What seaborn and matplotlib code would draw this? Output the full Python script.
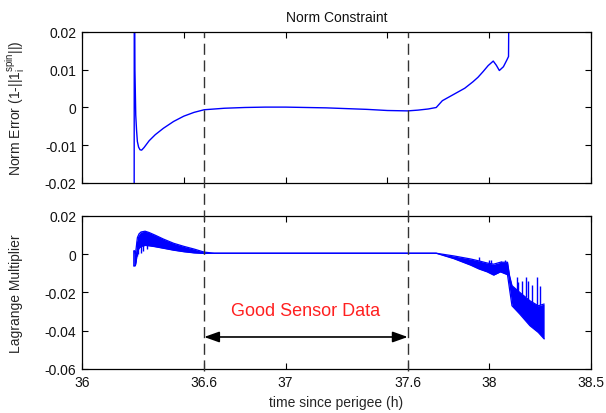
import numpy as np
import pandas as pd
import seaborn as sns
import matplotlib
matplotlib.use("Agg")
import matplotlib.pyplot as plt
from matplotlib.lines import Line2D
from matplotlib.transforms import blended_transform_factory

# ---------------- data ----------------
# Top panel: norm error
norm_t = [36.256, 36.257, 36.260, 36.264, 36.268, 36.272, 36.278, 36.285, 36.293,
          36.305, 36.33, 36.36, 36.40, 36.45, 36.50, 36.55, 36.60, 36.70, 36.80,
          36.90, 37.00, 37.10, 37.20, 37.30, 37.40, 37.50, 37.60, 37.65, 37.70,
          37.74, 37.77, 37.80, 37.85, 37.88, 37.92, 37.945, 37.97, 37.995, 38.02,
          38.035, 38.05, 38.07, 38.087, 38.095, 38.10]
norm_err = [-0.05, 0.05, 0.010, -0.002, -0.006, -0.009, -0.0105, -0.0112, -0.0113,
            -0.0106, -0.0088, -0.0072, -0.0055, -0.0037, -0.0023, -0.0013, -0.0006, -0.0002, 0.0000,
            0.0001, 0.0001, 0.0000, -0.0001, -0.0003, -0.0005, -0.0008, -0.0009, -0.0007, -0.0004,
            0.0000, 0.0018, 0.0027, 0.0042, 0.0051, 0.0068, 0.0080, 0.0095, 0.0111, 0.0123,
            0.0112, 0.0098, 0.0108, 0.0126, 0.0135, 0.05]

# Bottom panel: Lagrange multiplier, envelope of the oscillating signal
lag_t = [36.257, 36.262, 36.266, 36.272, 36.28, 36.29, 36.31, 36.33, 36.36, 36.40,
         36.45, 36.50, 36.55, 36.60, 36.65, 36.80, 37.00, 37.20, 37.40, 37.60, 37.74,
         37.826, 37.909, 37.95, 37.99, 38.022, 38.055, 38.09, 38.10, 38.112, 38.15,
         38.20, 38.241, 38.27]
lag_upper = [0.0017, 0.0000, 0.0030, 0.0085, 0.0105, 0.0115, 0.0119, 0.0112, 0.0098, 0.0078,
             0.0056, 0.0040, 0.0026, 0.0010, 0.0004, 0.0004, 0.0004, 0.0004, 0.0004, 0.0004, 0.0004,
             -0.0010, -0.0026, -0.0036, -0.0047, -0.0053, -0.0043, -0.0043, -0.0113, -0.0165, -0.0200,
             -0.0244, -0.0270, -0.0261]
lag_lower = [-0.0061, -0.0061, -0.0040, 0.0010, 0.0030, 0.0040, 0.0045, 0.0043, 0.0038, 0.0030,
             0.0020, 0.0012, 0.0006, 0.0003, 0.0004, 0.0004, 0.0004, 0.0004, 0.0004, 0.0004, 0.0004,
             -0.0024, -0.0058, -0.0078, -0.0093, -0.0110, -0.0093, -0.0108, -0.0183, -0.0270, -0.0313,
             -0.0374, -0.0409, -0.0443]
# narrow spikes of the oscillation (time, extreme value)
spike_t = [36.270, 36.276, 36.290, 36.300, 36.320,
           37.95, 37.998, 38.01, 38.06, 38.077,
           38.1375, 38.143, 38.16, 38.18, 38.193, 38.21, 38.235, 38.25, 38.265]
spike_v = [-0.0010, 0.0000, 0.0005, 0.0015, 0.0025,
           -0.0017, -0.0030, -0.0033, -0.0035, -0.0030,
           -0.0122, -0.0148, -0.0139, -0.0122, -0.0139, -0.0160, -0.0122, -0.0166, -0.0260]

good_bounds = [36.6, 37.6]
good_label = "Good Sensor Data"
arrow_y = -0.0433
label_y = -0.0297

top_yticks = [-0.02, -0.01, 0, 0.01, 0.02]
top_yticklabels = ["-0.02", "-0.01", "0", "0.01", "0.02"]
bot_yticks = [-0.06, -0.04, -0.02, 0, 0.02]
bot_yticklabels = ["-0.06", "-0.04", "-0.02", "0", "0.02"]
top_xticks = [36, 36.5, 37, 37.5, 38, 38.5]
bot_xticks = [36, 36.6, 37, 37.6, 38, 38.5]
bot_xticklabels = ["36", "36.6", "37", "37.6", "38", "38.5"]

# ---------------- style ----------------
sns.set_style("white")
plt.rcParams["font.family"] = ["Liberation Sans", "DejaVu Sans"]
plt.rcParams["mathtext.fontset"] = "custom"
plt.rcParams["mathtext.rm"] = "Liberation Sans"
plt.rcParams["mathtext.it"] = "Liberation Sans"
plt.rcParams["text.color"] = "#111111"

FS = 10
BLUE = "#0000ff"

fig = plt.figure(figsize=(6.06, 4.14), dpi=100)
ax1 = fig.add_axes([0.1353, 0.5556, 0.8399, 0.3647])
ax2 = fig.add_axes([0.1353, 0.1063, 0.8399, 0.3703])

# top line
df_top = pd.DataFrame({"t": norm_t, "e": norm_err})
sns.lineplot(data=df_top, x="t", y="e", ax=ax1, sort=False, estimator=None,
             color=BLUE, linewidth=1.0)

# bottom band
df_bot = pd.DataFrame({"t": lag_t, "u": lag_upper, "l": lag_lower})
ax2.fill_between(df_bot["t"], df_bot["l"], df_bot["u"], color=BLUE, linewidth=0)
sns.lineplot(data=df_bot, x="t", y="u", ax=ax2, sort=False, estimator=None,
             color=BLUE, linewidth=0.9)
sns.lineplot(data=df_bot, x="t", y="l", ax=ax2, sort=False, estimator=None,
             color=BLUE, linewidth=0.9)
ax2.vlines(spike_t, spike_v, np.interp(spike_t, lag_t, lag_upper), color=BLUE, linewidth=1.0)
ax2.plot([lag_t[0], lag_t[0]], [lag_upper[0], lag_lower[0]], color=BLUE, linewidth=1.2)

for ax in (ax1, ax2):
    ax.set_xlim(36, 38.5)
    for s in ax.spines.values():
        s.set_visible(True)
        s.set_color("black")
        s.set_linewidth(0.9)
    ax.tick_params(direction="in", length=4, width=0.8, top=True, right=True,
                   left=True, bottom=True, labelsize=FS, colors="black",
                   labelcolor="#111111", pad=4)
    ax.grid(False)
    ax.set_xlabel("")
    ax.set_ylabel("")

ax1.set_ylim(-0.02, 0.02)
ax1.set_yticks(top_yticks)
ax1.set_yticklabels(top_yticklabels)
ax1.set_xticks(top_xticks)
ax1.set_xticklabels([])
ax1.set_title("Norm Constraint", fontsize=FS, pad=8)
ax1.set_ylabel(r"Norm Error (1-||1$_\mathrm{i}^{\mathrm{spin}}$||)", fontsize=FS)
ax1.yaxis.set_label_coords(-0.108, 0.5)

ax2.set_ylim(-0.06, 0.02)
ax2.set_yticks(bot_yticks)
ax2.set_yticklabels(bot_yticklabels)
ax2.set_xticks(bot_xticks)
ax2.set_xticklabels(bot_xticklabels)
ax2.set_xlabel("time since perigee (h)", fontsize=FS, labelpad=5)
ax2.set_ylabel("Lagrange Multiplier", fontsize=FS)
ax2.yaxis.set_label_coords(-0.116, 0.5)

# dashed boundary lines spanning both panels
trans = blended_transform_factory(ax2.transData, fig.transFigure)
y_bot = 0.1063 - 0.006
y_top = 0.5556 + 0.3647
for xb in good_bounds:
    fig.add_artist(Line2D([xb, xb], [y_bot, y_top], transform=trans,
                          color="#333333", linewidth=1.0, linestyle=(0, (8, 4))))

# arrow and label
ax2.annotate("", xy=(good_bounds[0], arrow_y), xytext=(good_bounds[1], arrow_y),
             arrowprops=dict(arrowstyle="<|-|>,head_length=0.7,head_width=0.25",
                             color="black", linewidth=1.2, shrinkA=0, shrinkB=0,
                             mutation_scale=13))
ax2.text(sum(good_bounds) / 2, label_y, good_label, color="#ff2020", fontsize=13,
         ha="center", va="center")

fig.savefig("out.png", dpi=100)
